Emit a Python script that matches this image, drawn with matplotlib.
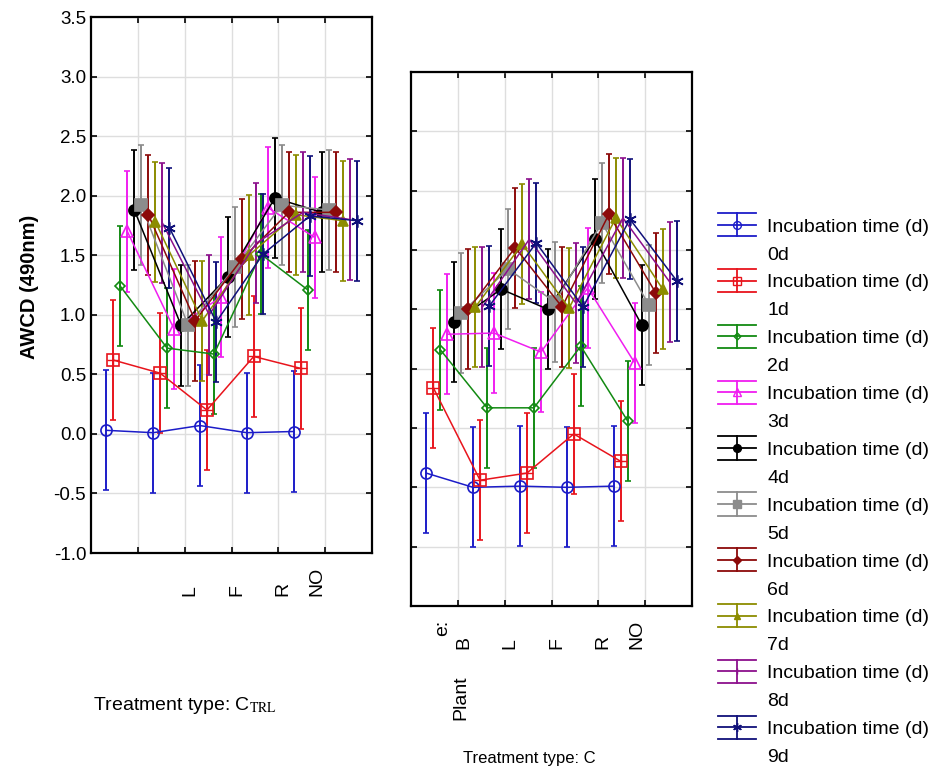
import numpy as np
import matplotlib.pyplot as plt
from matplotlib.lines import Line2D
from matplotlib.legend_handler import HandlerBase

plt.rcParams['font.family'] = ['Liberation Sans', 'DejaVu Sans']
plt.rcParams['mathtext.fontset'] = 'stix'

# categories (plant type) and incubation times
CATEGORIES_CTRL = ['', 'L', 'F', 'R', 'NO']
CATEGORIES_TREAT = ['B', 'L', 'F', 'R', 'NO']
DAYS = ['0d', '1d', '2d', '3d', '4d', '5d', '6d', '7d', '8d', '9d']

# AWCD means, one row per incubation day, columns B, L, F, R, NO
ctrl_awcd = [
  [0.03, 0.01, 0.07, 0.01, 0.02],
  [0.62, 0.51, 0.20, 0.65, 0.55],
  [1.24, 0.72, 0.67, 1.51, 1.21],
  [1.70, 0.88, 1.15, 1.90, 1.65],
  [1.88, 0.91, 1.32, 1.98, 1.86],
  [1.92, 0.91, 1.40, 1.92, 1.88],
  [1.84, 0.95, 1.47, 1.86, 1.86],
  [1.78, 0.95, 1.50, 1.84, 1.79],
  [1.77, 1.00, 1.60, 1.86, 1.80],
  [1.73, 0.94, 1.51, 1.83, 1.79],
]
treat_awcd = [
  [0.12, 0.00, 0.01, 0.00, 0.01],
  [0.84, 0.06, 0.12, 0.45, 0.22],
  [1.16, 0.67, 0.67, 1.19, 0.56],
  [1.29, 1.30, 1.14, 1.68, 1.05],
  [1.39, 1.67, 1.50, 2.09, 1.37],
  [1.47, 1.84, 1.56, 2.23, 1.54],
  [1.50, 2.02, 1.52, 2.30, 1.64],
  [1.52, 2.05, 1.51, 2.27, 1.67],
  [1.52, 2.09, 1.55, 2.27, 1.73],
  [1.53, 2.06, 1.52, 2.26, 1.74],
]
ci_half = 0.505  # 95% CI half width

# (color, marker, filled, size)
STYLES = [
  ('#1c1cc8', 'o', False, 8),
  ('#e8141c', 's', False, 8),
  ('#128a12', 'D', False, 5),
  ('#f01ef0', '^', False, 8),
  ('#000000', 'o', True, 8),
  ('#8c8c8c', 's', True, 8),
  ('#8c0a0a', 'D', True, 6),
  ('#8c8c00', '^', True, 7),
  ('#8c108c', '|', True, 6),
  ('#10107a', (6, 2, 0), True, 9),
]

positions = np.arange(1, 6)
dodge = (np.arange(len(DAYS)) - 4.5) * 0.15
label_shift = [0.12, 0.12, 0.12, 0.1, -0.17]


def draw_panel(ax, data, cats):
  for k, vals in enumerate(data):
    c, m, filled, ms = STYLES[k]
    x = positions + dodge[k]
    ax.errorbar(x, vals, yerr=ci_half, color=c, marker=m, ms=ms,
                mfc=c if filled else 'none', mec=c, mew=1.2, lw=1.1,
                elinewidth=1.4, capsize=2.5, capthick=1.4)
    if k == 1:
      ax.plot(x, vals, '+', color=c, ms=ms, mew=1.0)
  ax.set_xlim(0, 6)
  ax.set_ylim(-1, 3.5)
  ax.set_xticks(positions)
  ax.set_xticklabels([])
  ax.set_yticks(np.arange(-1, 3.51, 0.5))
  ax.grid(True, color='#dedede', lw=1)
  ax.set_axisbelow(True)
  ax.tick_params(direction='in', top=True, right=True, length=4, width=1.2,
                 labelsize=13.5)
  for s in ax.spines.values():
    s.set_linewidth(1.6)
  for i, lab in enumerate(cats):
    ax.text(positions[i] + label_shift[i], -0.08, lab, transform=ax.get_xaxis_transform(),
            rotation=90, ha='center', va='bottom', fontsize=14)


class CapHandler(HandlerBase):
  def create_artists(self, legend, orig_handle, xdescent, ydescent, width, height,
                     fontsize, trans):
    c = orig_handle.get_color()
    yc = height / 2 - ydescent
    half = 8.4
    x0, x1 = -xdescent, width - xdescent
    xm = (x0 + x1) / 2
    arts = [Line2D([x0, x1], [yc + half] * 2), Line2D([x0, x1], [yc - half] * 2),
            Line2D([x0, x1], [yc, yc]), Line2D([xm, xm], [yc - half, yc + half])]
    for a in arts:
      a.set_color(c)
      a.set_linewidth(1.3)
      a.set_transform(trans)
    mk = Line2D([xm], [yc], marker=orig_handle.get_marker(),
                ms=orig_handle.get_markersize() * 0.7,
                mfc=orig_handle.get_markerfacecolor(), mec=c, ls='none')
    mk.set_transform(trans)
    return arts + [mk]


fig = plt.figure(figsize=(9.4, 7.72), dpi=100)
ax1 = fig.add_axes([91 / 940, 1 - 553 / 772, 281 / 940, 536 / 772])
ax2 = fig.add_axes([411 / 940, 1 - 606 / 772, 281 / 940, 534 / 772])

draw_panel(ax1, ctrl_awcd, CATEGORIES_CTRL)
ax1.set_yticklabels([f'{v:.1f}' for v in np.arange(-1, 3.51, 0.5)])
draw_panel(ax2, treat_awcd, CATEGORIES_TREAT)
ax2.set_yticklabels([])

fig.text(30 / 940, 1 - 287 / 772, 'AWCD (490nm)', rotation=90, ha='center', va='center',
         fontsize=14.5, fontweight='bold')
fig.text(93 / 940, 1 - 705 / 772, r'Treatment type: C$_{\mathrm{TRL}}$', ha='left',
         va='center', fontsize=14)
fig.text(463 / 940, 1 - 758 / 772, 'Treatment type: C', ha='left', va='center', fontsize=12)
# leftovers of the wrapped first tick label
fig.text(461 / 940, 1 - 720 / 772, 'Plant', rotation=90, ha='center', va='bottom', fontsize=14)
fig.text(443 / 940, 1 - 636 / 772, 'e:', rotation=90, ha='center', va='bottom', fontsize=14)

handles, labels, hmap = [], [], {}
for k, day in enumerate(DAYS):
  c, m, filled, ms = STYLES[k]
  h = Line2D([], [], color=c, marker=m, ms=ms, mfc=c if filled else 'none')
  hmap[h] = CapHandler()
  handles += [h, Line2D([], [], ls='none')]
  labels += ['Incubation time (d)', day]

fig.legend(handles, labels, loc='upper left', bbox_to_anchor=(718 / 940, 1 - 218 / 772),
           frameon=False, borderpad=0, borderaxespad=0, handler_map=hmap, fontsize=14,
           handlelength=1.96, handletextpad=0.57, labelspacing=0.53)

fig.savefig('out.png', dpi=100)
